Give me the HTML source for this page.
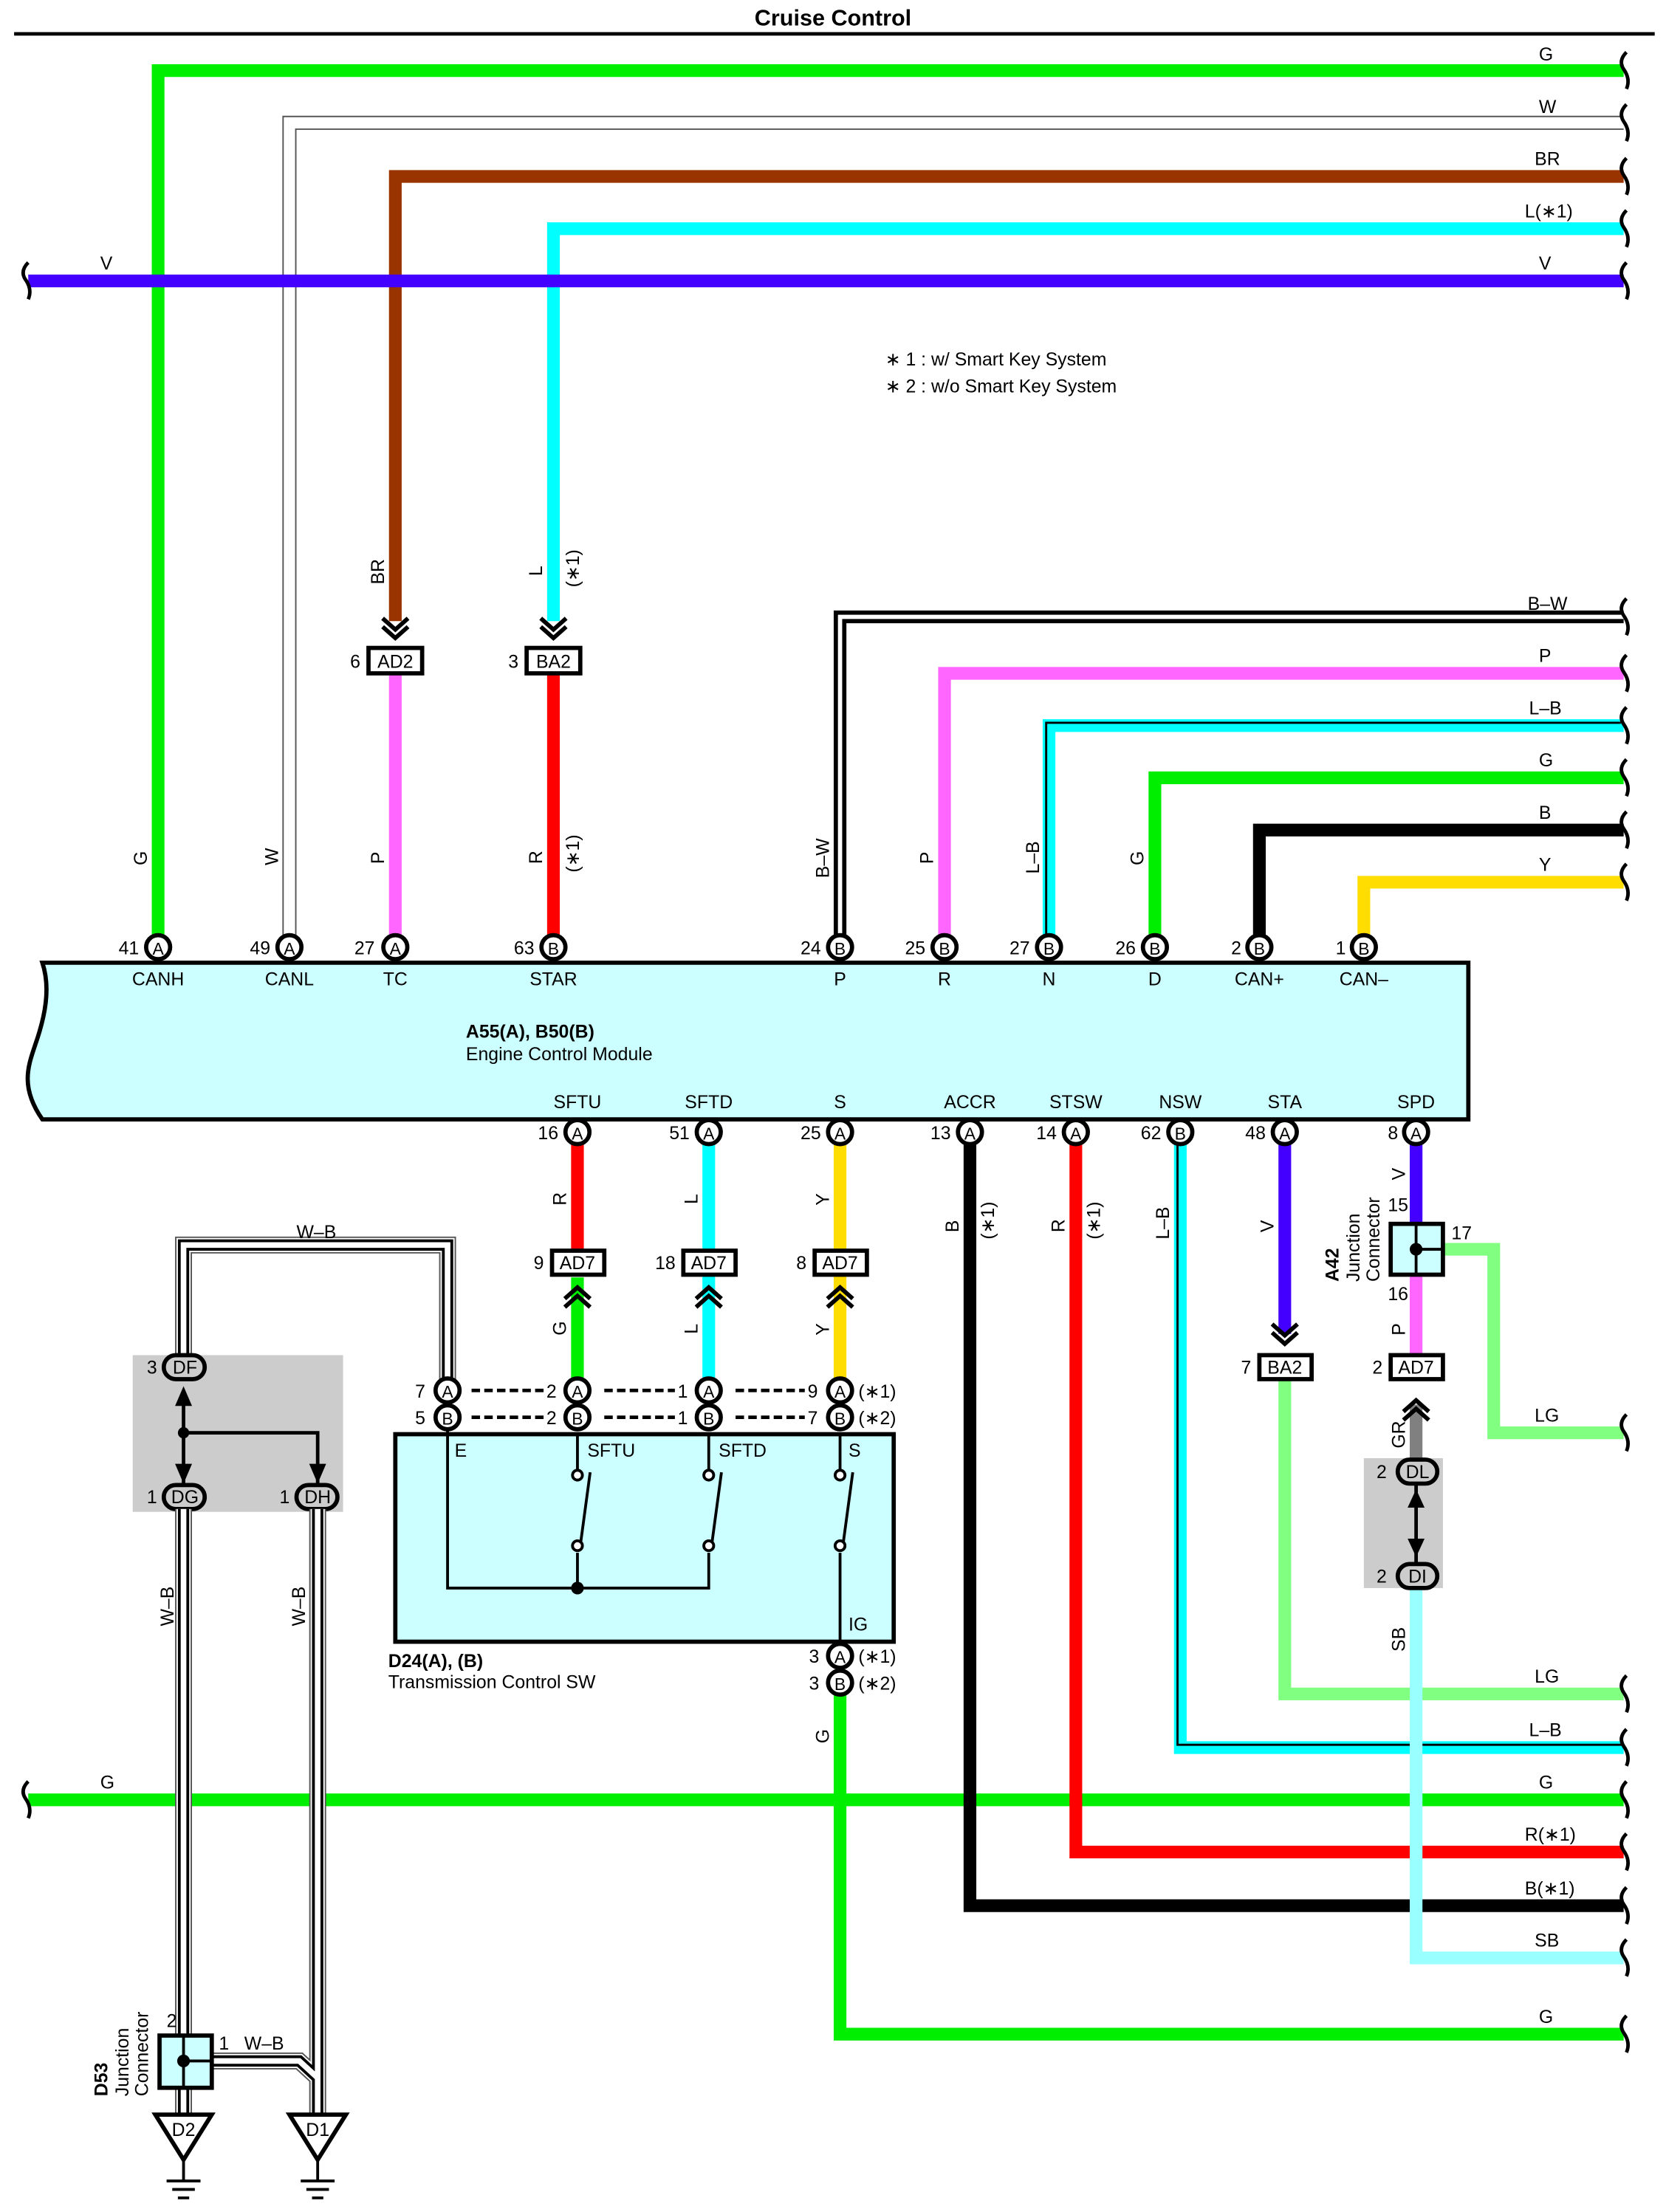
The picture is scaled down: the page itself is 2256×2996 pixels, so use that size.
<!DOCTYPE html>
<html><head><meta charset="utf-8"><style>
html,body{margin:0;padding:0;background:#fff}
svg{display:block}
text{font-family:"Liberation Sans",Arial,sans-serif;font-size:13px;fill:#000}
.b{font-weight:bold}
.pl{font-size:12px;text-anchor:middle;dominant-baseline:central}
.m{text-anchor:middle}
.e{text-anchor:end}
</style></head><body>
<svg width="2256" height="2996" viewBox="0 0 1180 1567" preserveAspectRatio="none" xmlns="http://www.w3.org/2000/svg">
<defs>
<g id="sq"><path d="M0,-13 q-6,6 -2,12 q5,7 2,14" fill="none" stroke="#000" stroke-width="2.5"/></g>
<g id="dn"><path d="M-9,-14 l9,8 l9,-8 M-9,-8 l9,8 l9,-8" fill="none" stroke="#000" stroke-width="3"/></g>
<g id="up"><path d="M-9,14 l9,-8 l9,8 M-9,8 l9,-8 l9,8" fill="none" stroke="#000" stroke-width="3"/></g>
</defs>
<text x="590" y="18" class="b m" style="font-size:16px">Cruise Control</text>
<line x1="10" y1="24" x2="1172" y2="24" stroke="#000" stroke-width="2.5"/>

<!-- top wires -->
<path d="M112,672 V50 H1150" fill="none" stroke="#00ee00" stroke-width="9"/>
<path d="M205,672 V87 H1150" fill="none" stroke="#555" stroke-width="10"/>
<path d="M205,672 V87 H1150" fill="none" stroke="#fff" stroke-width="8"/>
<path d="M280,440 V125 H1150" fill="none" stroke="#993300" stroke-width="9"/>
<path d="M392,440 V162 H1150" fill="none" stroke="#00ffff" stroke-width="9"/>
<line x1="20" y1="199" x2="1150" y2="199" stroke="#4400ff" stroke-width="9"/>
<use href="#sq" x="20" y="199"/>
<use href="#sq" x="1152" y="50"/><use href="#sq" x="1152" y="87"/><use href="#sq" x="1152" y="125"/><use href="#sq" x="1152" y="162"/><use href="#sq" x="1152" y="199"/>
<text x="1090" y="43">G</text><text x="1090" y="80">W</text><text x="1087" y="117">BR</text><text x="1080" y="154">L(∗1)</text><text x="1090" y="191">V</text>
<text x="71" y="191">V</text>
<text x="627" y="259">∗ 1 : w/ Smart Key System</text>
<text x="627" y="278">∗ 2 : w/o Smart Key System</text>

<!-- AD2 / BA2 -->
<use href="#dn" x="280" y="452"/><use href="#dn" x="392" y="452"/>
<line x1="280" y1="477" x2="280" y2="664" stroke="#ff66ff" stroke-width="9"/>
<line x1="392" y1="477" x2="392" y2="664" stroke="#ff0000" stroke-width="9"/>
<rect x="261" y="459" width="38" height="18" fill="#fff" stroke="#000" stroke-width="3"/><text x="280" y="473" class="m">AD2</text><text x="248" y="473">6</text>
<rect x="373" y="459" width="38" height="18" fill="#fff" stroke="#000" stroke-width="3"/><text x="392" y="473" class="m">BA2</text><text x="360" y="473">3</text>

<!-- right group top -->
<path d="M595,664 V437 H1150" fill="none" stroke="#000" stroke-width="9"/>
<path d="M595,664 V437 H1150" fill="none" stroke="#fff" stroke-width="3"/>
<path d="M669,664 V477 H1150" fill="none" stroke="#ff66ff" stroke-width="9"/>
<path d="M743,664 V514 H1150" fill="none" stroke="#00ffff" stroke-width="9"/>
<path d="M743,664 V514 H1150" fill="none" stroke="#000" stroke-width="1.5" transform="translate(-2,-2)"/>
<path d="M818,664 V551 H1150" fill="none" stroke="#00ee00" stroke-width="9"/>
<path d="M892,664 V588 H1150" fill="none" stroke="#000" stroke-width="9"/>
<path d="M966,664 V625 H1150" fill="none" stroke="#ffdd00" stroke-width="9"/>
<use href="#sq" x="1152" y="437"/><use href="#sq" x="1152" y="477"/><use href="#sq" x="1152" y="514"/><use href="#sq" x="1152" y="551"/><use href="#sq" x="1152" y="588"/><use href="#sq" x="1152" y="625"/>
<text x="1082" y="432">B–W</text><text x="1090" y="469">P</text><text x="1083" y="506">L–B</text><text x="1090" y="543">G</text><text x="1090" y="580">B</text><text x="1090" y="617">Y</text>

<!-- rotated wire labels -->
<g>
<text transform="translate(272,414) rotate(-90)">BR</text>
<text transform="translate(384,408) rotate(-90)">L</text>
<text transform="translate(410,416) rotate(-90)">(∗1)</text>
<text transform="translate(104,613) rotate(-90)">G</text>
<text transform="translate(197,613) rotate(-90)">W</text>
<text transform="translate(272,612) rotate(-90)">P</text>
<text transform="translate(384,612) rotate(-90)">R</text>
<text transform="translate(410,618) rotate(-90)">(∗1)</text>
<text transform="translate(587,622) rotate(-90)">B–W</text>
<text transform="translate(661,612) rotate(-90)">P</text>
<text transform="translate(736,619) rotate(-90)">L–B</text>
<text transform="translate(810,613) rotate(-90)">G</text>
</g>

<!-- ECM box -->
<path d="M30,682 H1040 V793 H30 C14,770 20,755 25,740 C32,720 36,700 30,682 Z" fill="#ccffff" stroke="#000" stroke-width="3"/>
<text x="330" y="735" class="b">A55(A), B50(B)</text>
<text x="330" y="751">Engine Control Module</text>
<g class="m">
<text x="112" y="698" class="m">CANH</text><text x="205" y="698" class="m">CANL</text><text x="280" y="698" class="m">TC</text><text x="392" y="698" class="m">STAR</text>
<text x="595" y="698" class="m">P</text><text x="669" y="698" class="m">R</text><text x="743" y="698" class="m">N</text><text x="818" y="698" class="m">D</text><text x="892" y="698" class="m">CAN+</text><text x="966" y="698" class="m">CAN–</text>
<text x="409" y="785" class="m">SFTU</text><text x="502" y="785" class="m">SFTD</text><text x="595" y="785" class="m">S</text><text x="687" y="785" class="m">ACCR</text><text x="762" y="785" class="m">STSW</text><text x="836" y="785" class="m">NSW</text><text x="910" y="785" class="m">STA</text><text x="1003" y="785" class="m">SPD</text>
</g>

<!-- lower wires -->
<line x1="409" y1="810" x2="409" y2="885" stroke="#ff0000" stroke-width="9"/>
<line x1="409" y1="905" x2="409" y2="978" stroke="#00ee00" stroke-width="9"/>
<line x1="502" y1="810" x2="502" y2="978" stroke="#00ffff" stroke-width="9"/>
<line x1="595" y1="810" x2="595" y2="978" stroke="#ffdd00" stroke-width="9"/>
<path d="M595,1200 V1441 H1150" fill="none" stroke="#00ee00" stroke-width="9"/>
<line x1="20" y1="1275" x2="1150" y2="1275" stroke="#00ee00" stroke-width="9"/>
<path d="M687,810 V1350 H1150" fill="none" stroke="#000" stroke-width="9"/>
<path d="M762,810 V1312 H1150" fill="none" stroke="#ff0000" stroke-width="9"/>
<path d="M836,810 V1238 H1150" fill="none" stroke="#00ffff" stroke-width="9"/>
<path d="M834,810 V1236 H1150" fill="none" stroke="#000" stroke-width="1.5"/>
<path d="M910,810 V945" fill="none" stroke="#4400ff" stroke-width="9"/>
<path d="M910,978 V1200 H1150" fill="none" stroke="#80ff80" stroke-width="9"/>
<path d="M1003,810 V868" fill="none" stroke="#4400ff" stroke-width="9"/>
<path d="M1003,903 V960" fill="none" stroke="#ff66ff" stroke-width="9"/>
<path d="M1022,885 H1058 V1015 H1150" fill="none" stroke="#80ff80" stroke-width="9"/>
<path d="M1003,995 V1035" fill="none" stroke="#808080" stroke-width="9"/>
<path d="M1003,1124 V1387 H1150" fill="none" stroke="#99ffff" stroke-width="9"/>
<use href="#sq" x="1152" y="1015"/><use href="#sq" x="1152" y="1200"/><use href="#sq" x="1152" y="1238"/><use href="#sq" x="1152" y="1275"/><use href="#sq" x="1152" y="1312"/><use href="#sq" x="1152" y="1350"/><use href="#sq" x="1152" y="1387"/><use href="#sq" x="1152" y="1441"/>
<use href="#sq" x="20" y="1275"/>
<text x="1087" y="1007">LG</text><text x="1087" y="1192">LG</text><text x="1083" y="1230">L–B</text><text x="1090" y="1267">G</text><text x="1080" y="1304">R(∗1)</text><text x="1080" y="1342">B(∗1)</text><text x="1087" y="1379">SB</text><text x="1090" y="1433">G</text>
<text x="71" y="1267">G</text>

<!-- lower rotated labels -->
<text transform="translate(401,854) rotate(-90)">R</text>
<text transform="translate(494,853) rotate(-90)">L</text>
<text transform="translate(587,854) rotate(-90)">Y</text>
<text transform="translate(401,946) rotate(-90)">G</text>
<text transform="translate(494,945) rotate(-90)">L</text>
<text transform="translate(587,946) rotate(-90)">Y</text>
<text transform="translate(679,873) rotate(-90)">B</text>
<text transform="translate(704,878) rotate(-90)">(∗1)</text>
<text transform="translate(754,873) rotate(-90)">R</text>
<text transform="translate(779,878) rotate(-90)">(∗1)</text>
<text transform="translate(828,878) rotate(-90)">L–B</text>
<text transform="translate(902,873) rotate(-90)">V</text>
<text transform="translate(995,836) rotate(-90)">V</text>
<text transform="translate(995,946) rotate(-90)">P</text>
<text transform="translate(995,1026) rotate(-90)">GR</text>
<text transform="translate(995,1170) rotate(-90)">SB</text>
<text transform="translate(587,1235) rotate(-90)">G</text>

<!-- AD7 boxes -->
<use href="#up" x="409" y="912"/><use href="#up" x="502" y="912"/><use href="#up" x="595" y="912"/>
<rect x="391" y="886" width="37" height="17" fill="#fff" stroke="#000" stroke-width="3"/><text x="409" y="899" class="m">AD7</text><text x="378" y="899">9</text>
<rect x="484" y="886" width="37" height="17" fill="#fff" stroke="#000" stroke-width="3"/><text x="502" y="899" class="m">AD7</text><text x="464" y="899">18</text>
<rect x="577" y="886" width="37" height="17" fill="#fff" stroke="#000" stroke-width="3"/><text x="595" y="899" class="m">AD7</text><text x="564" y="899">8</text>

<!-- STA BA2 -->
<use href="#dn" x="910" y="952"/>
<rect x="892" y="960" width="37" height="17" fill="#fff" stroke="#000" stroke-width="3"/><text x="910" y="973" class="m">BA2</text><text x="879" y="973">7</text>
<!-- A42 -->
<rect x="985" y="867" width="37" height="36" fill="#ccffff" stroke="#000" stroke-width="3"/>
<path d="M1003,867 V903 M1003,885 H1022" stroke="#000" stroke-width="2"/>
<circle cx="1003" cy="885" r="4.5"/>
<text x="983" y="858">15</text><text x="1028" y="878">17</text><text x="983" y="921">16</text>
<text transform="translate(948,908) rotate(-90)" class="b">A42</text>
<text transform="translate(963,908) rotate(-90)">Junction</text>
<text transform="translate(977,908) rotate(-90)">Connector</text>
<use href="#up" x="1003" y="992"/>
<rect x="985" y="960" width="37" height="17" fill="#fff" stroke="#000" stroke-width="3"/><text x="1003" y="973" class="m">AD7</text><text x="972" y="973">2</text>
<rect x="966" y="1033" width="56" height="92" fill="#cccccc"/>
<line x1="1003" y1="1050" x2="1003" y2="1108" stroke="#000" stroke-width="2.5"/>
<path d="M997,1068 L1003,1055 L1009,1068 Z M997,1090 L1003,1103 L1009,1090 Z" fill="#000"/>
<rect x="990" y="1034" width="28" height="17" rx="8.5" fill="#ccc" stroke="#000" stroke-width="3"/><text x="1004" y="1047" class="m">DL</text><text x="975" y="1047">2</text>
<rect x="990" y="1108" width="28" height="17" rx="8.5" fill="#ccc" stroke="#000" stroke-width="3"/><text x="1004" y="1121" class="m">DI</text><text x="975" y="1121">2</text>

<!-- D24 box -->
<rect x="280" y="1016" width="353" height="147" fill="#ccffff" stroke="#000" stroke-width="3"/>
<path d="M317,1004 V1125 H502 V1100 M409,1016 V1041 M502,1016 V1041 M595,1016 V1041 M409,1100 V1125 M595,1100 V1163" fill="none" stroke="#000" stroke-width="2"/>
<path d="M411,1095 L418,1043 M504,1095 L511,1043 M597,1095 L604,1043" stroke="#000" stroke-width="2"/>
<g fill="#fff" stroke="#000" stroke-width="2">
<circle cx="409" cy="1045" r="3.5"/><circle cx="502" cy="1045" r="3.5"/><circle cx="595" cy="1045" r="3.5"/>
<circle cx="409" cy="1095" r="3.5"/><circle cx="502" cy="1095" r="3.5"/><circle cx="595" cy="1095" r="3.5"/>
</g>
<circle cx="409" cy="1125" r="4.5"/>
<text x="322" y="1032">E</text><text x="416" y="1032">SFTU</text><text x="509" y="1032">SFTD</text><text x="601" y="1032">S</text><text x="601" y="1155">IG</text>
<text x="275" y="1181" class="b">D24(A), (B)</text>
<text x="275" y="1196">Transmission Control SW</text>
<!-- dashes -->
<g stroke="#000" stroke-width="2.5" stroke-dasharray="6,3">
<line x1="334" y1="985" x2="385" y2="985"/><line x1="428" y1="985" x2="478" y2="985"/><line x1="521" y1="985" x2="570" y2="985"/>
<line x1="334" y1="1004" x2="385" y2="1004"/><line x1="428" y1="1004" x2="478" y2="1004"/><line x1="521" y1="1004" x2="570" y2="1004"/>
</g>
<text x="294" y="990">7</text><text x="387" y="990">2</text><text x="480" y="990">1</text><text x="572" y="990">9</text>
<text x="294" y="1009">5</text><text x="387" y="1009">2</text><text x="480" y="1009">1</text><text x="572" y="1009">7</text>
<text x="608" y="990">(∗1)</text><text x="608" y="1009">(∗2)</text>
<text x="573" y="1178">3</text><text x="573" y="1197">3</text><text x="608" y="1178">(∗1)</text><text x="608" y="1197">(∗2)</text>

<!-- left W-B and junction -->
<rect x="94" y="960" width="149" height="111" fill="#cccccc"/>
<path d="M130,960 V882 H317 V977" fill="none" stroke="#555" stroke-width="12"/>
<path d="M130,960 V882 H317 V977" fill="none" stroke="#fff" stroke-width="10"/>
<path d="M130,960 V882 H317 V977" fill="none" stroke="#000" stroke-width="8"/>
<path d="M130,960 V882 H317 V977" fill="none" stroke="#fff" stroke-width="4"/>
<text x="210" y="877">W–B</text>
<path d="M130,985 V1052 M130,1015 H225 V1052" fill="none" stroke="#000" stroke-width="2.5"/>
<circle cx="130" cy="1015" r="4"/>
<path d="M124,996 L130,982 L136,996 Z M124,1037 L130,1051 L136,1037 Z M219,1037 L225,1051 L231,1037 Z" fill="#000"/>
<rect x="116" y="960" width="29" height="17" rx="8.5" fill="#ccc" stroke="#000" stroke-width="3"/><text x="131" y="973" class="m">DF</text><text x="104" y="973">3</text>
<rect x="116" y="1052" width="29" height="17" rx="8.5" fill="#ccc" stroke="#000" stroke-width="3"/><text x="131" y="1065" class="m">DG</text><text x="104" y="1065">1</text>
<rect x="210" y="1052" width="29" height="17" rx="8.5" fill="#ccc" stroke="#000" stroke-width="3"/><text x="225" y="1065" class="m">DH</text><text x="198" y="1065">1</text>
<g fill="none">
<path d="M130,1069 V1498 M225,1069 V1498 M150,1460 H212 L225,1472" stroke="#555" stroke-width="12"/>
<path d="M130,1069 V1498 M225,1069 V1498 M150,1460 H212 L225,1472" stroke="#fff" stroke-width="10"/>
<path d="M130,1069 V1498 M225,1069 V1498 M150,1460 H212 L225,1472" stroke="#000" stroke-width="8"/>
<path d="M130,1069 V1498 M225,1069 V1498 M150,1460 H212 L225,1472" stroke="#fff" stroke-width="4"/>
</g>
<text transform="translate(123,1152) rotate(-90)">W–B</text>
<text transform="translate(216,1152) rotate(-90)">W–B</text>
<rect x="113" y="1442" width="37" height="37" fill="#ccffff" stroke="#000" stroke-width="3"/>
<path d="M130,1442 V1479 M130,1460 H150" stroke="#000" stroke-width="2"/>
<circle cx="130" cy="1460" r="4.5"/>
<text x="118" y="1436">2</text><text x="155" y="1452">1</text><text x="173" y="1452">W–B</text>
<text transform="translate(76,1485) rotate(-90)" class="b">D53</text>
<text transform="translate(91,1485) rotate(-90)">Junction</text>
<text transform="translate(105,1485) rotate(-90)">Connector</text>
<path d="M110,1498 H150 L130,1530 Z M205,1498 H245 L225,1530 Z" fill="#fff" stroke="#000" stroke-width="3"/>
<text x="130" y="1513" class="m">D2</text><text x="225" y="1513" class="m">D1</text>
<path d="M130,1530 V1545 M118,1545 H142 M122,1551 H138 M126,1557 H134 M225,1530 V1545 M213,1545 H237 M217,1551 H233 M221,1557 H229" stroke="#000" stroke-width="2"/>

<!-- pins -->
<g fill="#fff" stroke="#000" stroke-width="3">
<circle cx="112" cy="671" r="8.5"/><circle cx="205" cy="671" r="8.5"/><circle cx="280" cy="671" r="8.5"/><circle cx="392" cy="671" r="8.5"/>
<circle cx="595" cy="671" r="8.5"/><circle cx="669" cy="671" r="8.5"/><circle cx="743" cy="671" r="8.5"/><circle cx="818" cy="671" r="8.5"/><circle cx="892" cy="671" r="8.5"/><circle cx="966" cy="671" r="8.5"/>
<circle cx="409" cy="802" r="8.5"/><circle cx="502" cy="802" r="8.5"/><circle cx="595" cy="802" r="8.5"/><circle cx="687" cy="802" r="8.5"/><circle cx="762" cy="802" r="8.5"/><circle cx="836" cy="802" r="8.5"/><circle cx="910" cy="802" r="8.5"/><circle cx="1003" cy="802" r="8.5"/>
<circle cx="317" cy="985" r="8.5"/><circle cx="409" cy="985" r="8.5"/><circle cx="502" cy="985" r="8.5"/><circle cx="595" cy="985" r="8.5"/>
<circle cx="317" cy="1004" r="8.5"/><circle cx="409" cy="1004" r="8.5"/><circle cx="502" cy="1004" r="8.5"/><circle cx="595" cy="1004" r="8.5"/>
<circle cx="595" cy="1173" r="8.5"/><circle cx="595" cy="1192" r="8.5"/>
</g>
<g class="pl">
<text x="112" y="672" class="pl">A</text><text x="205" y="672" class="pl">A</text><text x="280" y="672" class="pl">A</text><text x="392" y="672" class="pl">B</text>
<text x="595" y="672" class="pl">B</text><text x="669" y="672" class="pl">B</text><text x="743" y="672" class="pl">B</text><text x="818" y="672" class="pl">B</text><text x="892" y="672" class="pl">B</text><text x="966" y="672" class="pl">B</text>
<text x="409" y="803" class="pl">A</text><text x="502" y="803" class="pl">A</text><text x="595" y="803" class="pl">A</text><text x="687" y="803" class="pl">A</text><text x="762" y="803" class="pl">A</text><text x="836" y="803" class="pl">B</text><text x="910" y="803" class="pl">A</text><text x="1003" y="803" class="pl">A</text>
<text x="317" y="986" class="pl">A</text><text x="409" y="986" class="pl">A</text><text x="502" y="986" class="pl">A</text><text x="595" y="986" class="pl">A</text>
<text x="317" y="1005" class="pl">B</text><text x="409" y="1005" class="pl">B</text><text x="502" y="1005" class="pl">B</text><text x="595" y="1005" class="pl">B</text>
<text x="595" y="1174" class="pl">A</text><text x="595" y="1193" class="pl">B</text>
</g>
<text x="84" y="676">41</text><text x="177" y="676">49</text><text x="251" y="676">27</text><text x="364" y="676">63</text>
<text x="567" y="676">24</text><text x="641" y="676">25</text><text x="715" y="676">27</text><text x="790" y="676">26</text><text x="872" y="676">2</text><text x="946" y="676">1</text>
<text x="381" y="807">16</text><text x="474" y="807">51</text><text x="567" y="807">25</text><text x="659" y="807">13</text><text x="734" y="807">14</text><text x="808" y="807">62</text><text x="882" y="807">48</text><text x="983" y="807">8</text>
</svg>
</body></html>
